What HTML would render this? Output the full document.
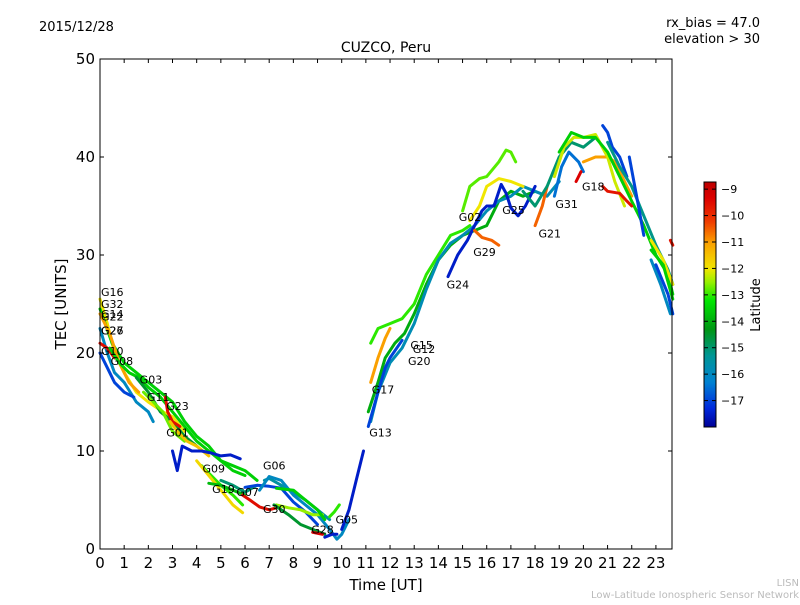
<!DOCTYPE html>
<html><head><meta charset="utf-8"><style>
body{margin:0;background:#fff;font-family:"Liberation Sans","DejaVu Sans",sans-serif}
svg text{font-family:"DejaVu Sans","Liberation Sans",sans-serif}
</style></head><body>
<svg id="c" width="800" height="600" xmlns="http://www.w3.org/2000/svg">
<rect width="800" height="600" fill="#fff"/>
<text x="39" y="31" font-size="13">2015/12/28</text>
<text x="760" y="27" font-size="13" text-anchor="end">rx_bias = 47.0</text>
<text x="760" y="43" font-size="13" text-anchor="end">elevation &gt; 30</text>
<text x="386" y="52" font-size="14" text-anchor="middle">CUZCO, Peru</text>
<g id="plot"></g>
<rect x="100" y="59" width="572" height="490" fill="none" stroke="#000"/>
<g id="axes"></g>
<text x="386" y="590" font-size="15" text-anchor="middle">Time [UT]</text>
<text transform="translate(66,304) rotate(-90)" font-size="15" text-anchor="middle">TEC [UNITS]</text>
<g id="cbar"></g>
<text transform="translate(760,305) rotate(-90)" font-size="13" text-anchor="middle">Latitude</text>
<text x="799" y="586" font-size="10" fill="#bbb" text-anchor="end">LISN</text>
<text x="799" y="598" font-size="10" fill="#bbb" text-anchor="end">Low-Latitude Ionospheric Sensor Network</text>
</svg>
<script>
const xTicks=[0,1,2,3,4,5,6,7,8,9,10,11,12,13,14,15,16,17,18,19,20,21,22,23];
const yTicks=[0,10,20,30,40,50];
const cTicks=[-9,-10,-11,-12,-13,-14,-15,-16,-17];
const traceLats=[-12,-13.5,-11,-16,-9.5,-17,-13.5,-14.5,-12.7,-9.5,-11.5,-17.5,-13,-11.8,-13.8,-15,-17,-15.5,-16,-9.5,-12.5,-13.5,-14.5,-9.3,-17.5,-13,-17.5,-11,-14,-13,-15.8,-12.8,-17,-17.5,-10.5,-12,-10.5,-15,-16.5,-9.3,-11,-12.2,-13.5,-17,-15.2,-9.6,-16,-12,-17,-9.6,-13.5,-17];
const traces=[
[[0,25.5],[0.3,23],[0.6,20],[1,18],[1.5,16],[2,15],[2.6,14],[3,13.5],[3.5,12]],
[[0,24.5],[0.5,21],[1,19],[1.5,18],[2,17],[2.5,16],[3,15],[3.5,13],[4,11.5],[4.5,10.5],[5,9],[5.5,8],[6,7.5]],
[[0,24],[0.4,22],[0.8,19],[1.2,17],[1.6,16]],
[[0,22.5],[0.3,20],[0.6,18],[1,17],[1.5,15],[2,14],[2.2,13]],
[[0,21],[0.3,20.5],[0.6,19.5]],
[[0,20],[0.3,18.5],[0.6,17],[1,16],[1.4,15.5]],
[[0.4,20.5],[0.8,19],[1.2,18],[1.6,17.5],[2,16.5],[2.5,15.5],[3,14],[3.5,12.5],[4,11],[4.5,10],[5,9],[5.5,8.5],[6,8],[6.5,7]],
[[1.5,17.5],[2,16],[2.5,14],[3,13],[3.5,11.5],[4,10.5]],
[[1.8,16],[2.2,15],[2.6,14],[3,12],[3.5,11]],
[[2.7,15.5],[2.8,14],[3,13],[3.3,12.5]],
[[2.9,13],[3.2,12],[3.6,11],[4,10.5],[4.5,9.5]],
[[3,10],[3.2,8],[3.4,10.5],[3.8,10],[4.2,10],[4.6,9.8],[5,9.5],[5.4,9.6],[5.8,9.2]],
[[4.2,8.5],[4.6,7.5],[5,6.5],[5.5,5.5],[5.9,4.5]],
[[4,9],[4.5,7.5],[5,6],[5.5,4.5],[5.9,3.7]],
[[4.5,6.7],[5,6.5],[5.5,6],[6,5.5]],
[[5,7],[5.5,6.5],[6,5.8],[6.5,6.5]],
[[6,6.3],[6.5,6.5],[7,6.4],[7.5,6.2],[8,4.8],[8.5,3.8],[9,2.5]],
[[6.8,7],[7,7.2],[7.5,6.5],[8,5.8],[8.5,5],[9,4],[9.5,3]],
[[6.6,6],[7,7.4],[7.5,7],[8,5.5],[8.5,4.5],[9,3.5],[9.5,2],[9.8,1],[10,1.5],[10.3,3]],
[[5.9,5.5],[6.2,5],[6.6,4.3],[7,4],[7.3,4.2]],
[[7.3,4.5],[7.8,4.2],[8.3,4],[8.8,3.5],[9.2,3.5]],
[[7.3,6.2],[8,6],[8.5,5],[9,4],[9.3,3]],
[[7.2,4.5],[7.8,3.5],[8.3,2.5],[8.8,2],[9.3,1.5]],
[[8.8,1.7],[9.2,1.5]],
[[9.3,1.2],[9.6,1.5],[9.8,1.5]],
[[9.5,3.3],[9.7,3.8],[9.9,4.5]],
[[10,2],[10.3,4],[10.6,7],[10.9,10]],
[[11.2,17],[11.5,19.5],[11.8,21.5],[12,22.5]],
[[11.1,14],[11.5,17],[11.8,19.5],[12.2,21],[12.6,22],[13,24],[13.5,27],[14,29.5],[14.5,31],[15,32],[15.5,32.5],[16,33],[16.5,35.5],[17,36.5],[17.5,36],[18,36.5]],
[[11.2,21],[11.5,22.5],[12,23],[12.5,23.5],[13,25],[13.5,28],[14,30],[14.5,32],[15,32.5],[15.3,33]],
[[11.2,13],[11.5,16],[12,19],[12.5,20.5],[13,23],[13.5,26.5],[14,29.5],[14.5,31.2],[15,32],[15.5,33],[16,34.5],[16.5,35.5],[17,36],[17.5,37],[18,36.5],[18.5,36],[19,37.5]],
[[15,34.5],[15.3,37],[15.7,37.8],[16,38],[16.5,39.5],[16.8,40.7],[17,40.5],[17.2,39.5]],
[[11.1,12.5],[11.5,16],[11.8,18.5],[12,19.5],[12.5,21.3]],
[[14.4,27.8],[14.8,30],[15.2,31.5],[15.5,33],[15.8,34.5],[16,35],[16.3,35],[16.6,37.2],[16.8,36.3],[17,34.8],[17.3,34],[17.6,35],[18,37]],
[[15.5,32.5],[15.8,31.8],[16.2,31.5],[16.5,31]],
[[15.3,33.5],[15.7,35],[16,37],[16.5,37.8],[17,37.5],[17.5,37]],
[[18,33],[18.3,35],[18.5,37]],
[[17.5,36.5],[18,35],[18.5,37],[19,40],[19.5,41.5],[20,41],[20.5,42]],
[[18.8,36],[19.1,39],[19.4,40.5],[19.8,39.5],[20,38.5]],
[[19.7,37.5],[19.9,38.5]],
[[20,39.5],[20.5,40],[21,40],[21.3,39.5],[21.6,38],[22,36]],
[[18.8,38],[19.2,41],[19.6,42],[20,42],[20.5,42.3],[21,40],[21.3,37.5],[21.7,35]],
[[19,40.5],[19.5,42.5],[20,42],[20.5,42],[21,40.5],[21.5,38],[22,35.5],[22.5,33],[23,30],[23.5,28],[23.7,26]],
[[20.8,43.2],[21,42.5],[21.2,41],[21.5,40],[21.8,38]],
[[21,41.5],[21.5,39],[22,37],[22.5,34],[23,31],[23.5,28.5],[23.7,27]],
[[20.8,37],[21,36.5],[21.5,36.3],[21.8,35.5],[22,35]],
[[22.8,29.5],[23.2,27],[23.6,24]],
[[22.8,31.5],[23.3,29.5],[23.7,27]],
[[23,29],[23.5,26],[23.7,24]],
[[23.6,31.5],[23.7,31]],
[[22.8,30.5],[23.3,29],[23.7,25.5]],
[[21.9,40],[22.2,36],[22.5,32]]
];
const labelNames=["G16","G32","G14","G22","G26","G27","G10","G08","G03","G11","G23","G01","G09","G06","G19","G07","G30","G28","G05","G13","G17","G15","G12","G20","G24","G29","G02","G25","G21","G31","G18"];
const labelH=[0,0,0,0,0,0,0,0.4,1.6,1.9,2.7,2.7,4.2,6.7,4.6,5.6,6.7,8.7,9.7,11.1,11.2,12.8,12.9,12.7,14.3,15.4,14.8,16.6,18.1,18.8,19.9];
const labelV=[26.2,25,24,23.7,22.3,22.3,20.2,19.2,17.3,15.5,14.6,11.9,8.2,8.5,6.1,5.8,4.1,2.0,3.0,11.9,16.3,20.8,20.4,19.2,27.0,30.3,33.9,34.6,32.2,35.2,37.0];
const X=h=>100+h*24.17, Y=v=>549-v*9.8;
const NS="http://www.w3.org/2000/svg";
const cmapLat=[-18,-17.3,-16.3,-15.3,-14.3,-13.2,-12.5,-12,-11,-10.2,-9.3,-8.73];
const cmapRGB=[[0,0,150],[0,40,220],[0,130,210],[0,150,150],[0,150,20],[0,230,0],[150,240,0],[240,230,0],[250,160,0],[240,60,0],[220,0,0],[190,0,0]];
function cmap(l){
 if(l<=cmapLat[0])return `rgb(${cmapRGB[0]})`;
 for(let i=1;i<cmapLat.length;i++){if(l<=cmapLat[i]){const f=(l-cmapLat[i-1])/(cmapLat[i]-cmapLat[i-1]);const a=cmapRGB[i-1],b=cmapRGB[i];return `rgb(${a.map((v,k)=>Math.round(v+(b[k]-v)*f)).join(',')})`;}}
 return `rgb(${cmapRGB[cmapRGB.length-1]})`;
}
const latMin=-18.0, latMax=-8.73;
const plot=document.getElementById('plot');
traces.forEach((tr,i)=>{
 const p=document.createElementNS(NS,'polyline');
 p.setAttribute('points',tr.map(q=>X(q[0]).toFixed(1)+','+Y(q[1]).toFixed(1)).join(' '));
 p.setAttribute('fill','none');p.setAttribute('stroke',cmap(traceLats[i]));
 p.setAttribute('stroke-width','3');p.setAttribute('stroke-linejoin','round');p.setAttribute('stroke-linecap','round');
 
 
 plot.appendChild(p);
});
labelNames.forEach((n,i)=>{
 const t=document.createElementNS(NS,'text');
 t.setAttribute('x',X(labelH[i])+1);t.setAttribute('y',Y(labelV[i])+4);t.setAttribute('font-size','11');t.textContent=n;
 
 
 plot.appendChild(t);
});
const ax=document.getElementById('axes');
xTicks.forEach(h=>{
 const x=X(h);
 ax.insertAdjacentHTML('beforeend',`<line x1="${x}" y1="549" x2="${x}" y2="545" stroke="#000"/><line x1="${x}" y1="59" x2="${x}" y2="63" stroke="#000"/>`);
 const t=document.createElementNS(NS,'text');t.setAttribute('x',x);t.setAttribute('y',568);t.setAttribute('font-size','15');t.setAttribute('text-anchor','middle');t.textContent=h;
 
 
 ax.appendChild(t);
});
yTicks.forEach(v=>{
 const y=Y(v);
 ax.insertAdjacentHTML('beforeend',`<line x1="100" y1="${y}" x2="104" y2="${y}" stroke="#000"/><line x1="672" y1="${y}" x2="668" y2="${y}" stroke="#000"/>`);
 const t=document.createElementNS(NS,'text');t.setAttribute('x',95);t.setAttribute('y',y+5);t.setAttribute('font-size','15');t.setAttribute('text-anchor','end');t.textContent=v;
 
 
 ax.appendChild(t);
});
const cb=document.getElementById('cbar');
const cy=l=>427-(l-latMin)/(latMax-latMin)*245;
for(let i=0;i<245;i++){cb.insertAdjacentHTML('beforeend',`<rect x="704" y="${426-i}" width="12" height="1.5" fill="${cmap(latMin+(latMax-latMin)*i/244)}"/>`);}
cb.insertAdjacentHTML('beforeend',`<rect x="704" y="182" width="12" height="245" fill="none" stroke="#000"/>`);
cTicks.forEach(l=>{
 const y=cy(l);
 cb.insertAdjacentHTML('beforeend',`<line x1="716" y1="${y}" x2="712" y2="${y}" stroke="#000"/><line x1="704" y1="${y}" x2="708" y2="${y}" stroke="#000"/>`);
 const t=document.createElementNS(NS,'text');t.setAttribute('x',721);t.setAttribute('y',y+4);t.setAttribute('font-size','11');t.textContent='\u2212'+Math.abs(l);
 
 
 cb.appendChild(t);
});
</script>
</body></html>
